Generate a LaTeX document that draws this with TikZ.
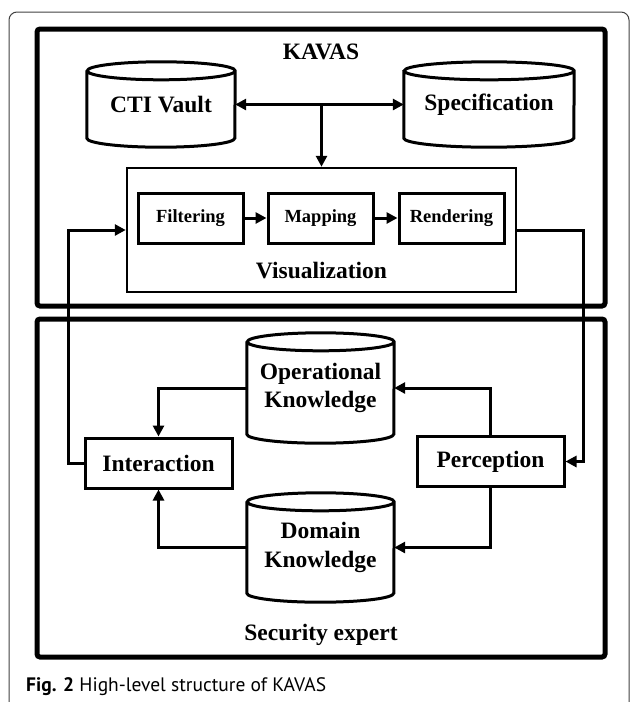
\documentclass[tikz,border=0pt]{standalone}
\usepackage{fontspec}
\setmainfont{Liberation Serif}
\newfontfamily\capfont{PT Sans}
\usetikzlibrary{arrows.meta,calc}

% cylinder outline around an (undrawn) node: #1 node name, #2 half width
\newcommand\cylbody[2]{%
  \draw[cylline] ([yshift=-9pt]#1.north west) -- ([yshift=9pt]#1.south west)
    arc[start angle=180, end angle=360, x radius=#2pt, y radius=9pt]
    -- ([yshift=-9pt]#1.north east)
    arc[start angle=0, end angle=360, x radius=#2pt, y radius=9pt];}

\tikzset{
  big/.style={font=\bfseries\fontsize{23.5}{28.5}\selectfont},
  small/.style={font=\bfseries\fontsize{18.5}{22}\selectfont},
  frame/.style={line width=5pt, rounded corners=3pt},
  cylnode/.style={big, inner sep=0pt, align=center},
  cylline/.style={line width=3pt},
  stagebox/.style={draw, line width=3pt, small, inner sep=0pt, minimum height=50pt, minimum width=105pt},
  rolebox/.style={draw, line width=3pt, big, inner sep=0pt, minimum height=50pt, minimum width=147pt},
  flow/.style={line width=3pt, -{Triangle[length=11pt,width=11pt]}},
  flowboth/.style={line width=3pt, {Triangle[length=11pt,width=11pt]}-{Triangle[length=11pt,width=11pt]}},
}

\begin{document}
\begin{tikzpicture}[x=1pt,y=1pt]
\useasboundingbox (0,0) rectangle (630,-702);

% thin page frame
\draw[line width=1pt, black!75, rounded corners=8pt] (9,-712) rectangle (629,-12);

% the two parts
\draw[frame] (37,-29) rectangle (605,-306);
\draw[frame] (37,-319) rectangle (605,-657);
\node[big] (kavas) at (321,-52) {KAVAS};
\node[big] (expert) at (321,-635) {Security expert};

% stores of the upper part
\node[cylnode, minimum width=148pt, minimum height=85pt] (cti) at (161,-104.5) {CTI Vault};
\cylbody{cti}{74}
\node[cylnode, minimum width=170pt, minimum height=85pt] (spec) at (489,-104.5) {Specification};
\cylbody{spec}{85}

% visualization pipeline
\node[draw, line width=2.5pt, minimum width=389pt, minimum height=124pt, inner sep=0pt] (vis) at (321.5,-230) {};
\node[big] (vislabel) at (321.5,-271) {Visualization};
\node[stagebox] (filt) at (190.5,-218) {Filtering};
\node[stagebox] (mapp) at (320.5,-218) {Mapping};
\node[stagebox] (rend) at (451.5,-218) {Rendering};
\draw[flow] (filt) -- (mapp);
\draw[flow] (mapp) -- (rend);

\coordinate (junc) at (vis.north |- cti.east);
\draw[flowboth] (cti.east) -- (spec.west);
\draw[flow] (junc) -- (vis.north);

% stores of the lower part
\node[cylnode, minimum width=147pt, minimum height=110pt] (oper) at (320.5,-388) {Operational\\Knowledge};
\cylbody{oper}{73.5}
\node[cylnode, minimum width=147pt, minimum height=109pt] (dom) at (320.5,-547.5) {Domain\\Knowledge};
\cylbody{dom}{73.5}

\node[rolebox] (inter) at (158.5,-463) {Interaction};
\node[rolebox] (perc) at (490.5,-461.5) {Perception};

\draw[flow] (oper.west) -| (inter.north);
\draw[flow] (dom.west) -| (inter.south);
\draw[flow] (perc.north) |- (oper.east);
\draw[flow] (perc.south) |- (dom.east);

% loops between the two parts
\coordinate (lefttrack) at (68,0);
\coordinate (righttrack) at (583,0);
\draw[flow] (inter.west) -| (lefttrack |- vis.west) -- (vis.west);
\draw[flow] (vis.east) -| (righttrack |- perc.east) -- (perc.east);

% caption
\node[anchor=base west, inner sep=0pt, font=\capfont\fontsize{19.5}{23}\selectfont] (cap) at (26,-691)
  {\textbf{Fig. 2} High-level structure of KAVAS};
\end{tikzpicture}
\end{document}
